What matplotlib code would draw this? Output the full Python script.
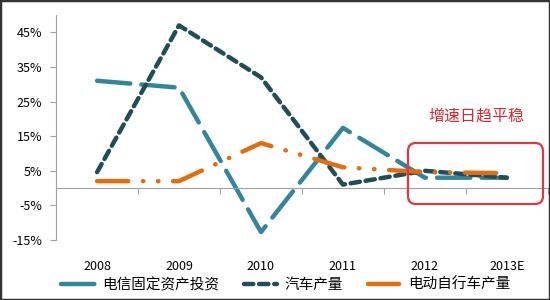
import matplotlib
matplotlib.use('Agg')
from matplotlib import pyplot as plt
from matplotlib.patches import FancyBboxPatch, Rectangle
import numpy as np

plt.rcParams['font.family'] = ['Noto Sans CJK SC', 'DejaVu Sans']

years = ['2008', '2009', '2010', '2011', '2012', '2013E']
telecom = [31, 29, -12.7, 17.4, 3, 3]
auto = [4.6, 47, 32, 1, 5, 3]
ebike = [2, 2, 13, 6, 4.6, 4.3]
yticks = [-15, -5, 5, 15, 25, 35, 45]

fig = plt.figure(figsize=(5.5, 3), dpi=100)
ax = fig.add_axes([0.102, 0.2, 0.894, 0.75])

x = np.arange(len(years))
lw = 3.2
ax.plot(x, telecom, color='#31859c', lw=lw, dashes=(7.5, 2.5), dash_capstyle='round',
        label='电信固定资产投资')
ax.plot(x, auto, color='#1f4e5a', lw=lw, dashes=(2.1, 1.3), dash_capstyle='round',
        label='汽车产量')
ax.plot(x, ebike, color='#e46c0a', lw=lw, dashes=(7, 3.3, 0.1, 3.3, 0.1, 3.3),
        dash_capstyle='round', label='电动自行车产量')

ax.set_xlim(-0.5, 5.5)
ax.set_ylim(-15, 50)
ax.set_yticks(yticks)
ax.set_yticklabels([f'{v}%' for v in yticks], fontsize=9)
ax.tick_params(axis='y', length=4, color='#a0a0a0', pad=6)

ax.spines['top'].set_visible(False)
ax.spines['right'].set_visible(False)
ax.spines['left'].set_color('#a0a0a0')
ax.spines['bottom'].set_color('#a0a0a0')
ax.spines['bottom'].set_position(('data', 0))

ax.set_xticks(x + 0.5, [''] * len(years))
ax.tick_params(axis='x', length=4, color='#a0a0a0')
for i, yr in enumerate(years):
    ax.text(i, -0.12, yr, transform=ax.get_xaxis_transform(), ha='center',
            va='center', fontsize=9)

# red highlight box and note
box = FancyBboxPatch((408, 96), 135, 61, boxstyle='round,pad=0,rounding_size=8',
                     transform=None, fill=False, edgecolor='#e0383e', lw=1.6)
fig.patches.append(box)
fig.text(476 / 550, 1 - 116 / 300, '增速日趋平稳', color='#d8282e', fontsize=11.5,
         ha='center', va='center')

fig.legend(loc='center', bbox_to_anchor=(0.52, 0.05), ncol=3, frameon=False,
           fontsize=10.5, handlelength=2.3, columnspacing=1.7, handletextpad=0.5)

fig.patches.append(Rectangle((0, 0), 1, 1, transform=fig.transFigure, fill=False,
                             edgecolor='#333333', lw=2.5))

plt.savefig('out.png', dpi=100)
